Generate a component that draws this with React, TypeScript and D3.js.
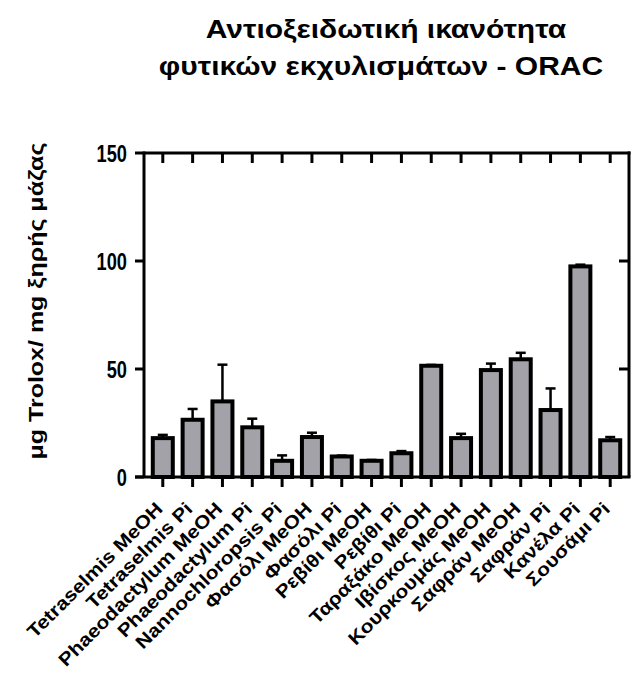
import React from "react";
import * as d3 from "d3";

const categories = [
  "Tetraselmis MeOH",
  "Tetraselmis Pi",
  "Phaeodactylum MeOH",
  "Phaeodactylum Pi",
  "Nannochloropsis Pi",
  "Φασόλι MeOH",
  "Φασόλι Pi",
  "Ρεβίθι MeOH",
  "Ρεβίθι Pi",
  "Ταραξάκο MeOH",
  "Ιβίσκος MeOH",
  "Κουρκουμάς MeOH",
  "Σαφράν MeOH",
  "Σαφράν Pi",
  "Κανέλα Pi",
  "Σουσάμι Pi",
];
const means = [18, 26.5, 35, 23, 7.5, 18.5, 9.5, 7.5, 11, 51.5, 18, 49.5, 54.5, 31, 97.5, 17];
const errors = [1.5, 5, 17, 4, 2.5, 2, 0.4, 0.4, 1, 0.4, 2, 3, 3, 10, 0.8, 1.5];
const yTicks = [0, 50, 100, 150];
const titleLines = ["Αντιοξειδωτική ικανότητα", "φυτικών εκχυλισμάτων - ORAC"];
const yLabel = "μg Trolox/ mg ξηρής μάζας";

const W = 632;
const H = 676;
const left = 144;
const right = 629;
const top = 153;
const bottom = 477;

export default function App() {
  const x = d3.scalePoint<string>().domain(categories).range([left, right]).padding(0.63);
  const y = d3.scaleLinear().domain([0, 150]).range([bottom, top]);
  const barW = 20;
  const font = "'Liberation Sans', Arial, sans-serif";
  const sw = 3;
  return (
    <svg width={W} height={H} style={{ position: "absolute", left: 0, top: 0 }} fontFamily={font}>
      <rect width={W} height={H} fill="#fff" />
      {titleLines.map((t, i) => (
        <text
          key={i}
          transform={`translate(${i === 0 ? 386 : 381}, ${38 + i * 37}) scale(1.2, 1)`}
          textAnchor="middle"
          fontSize={25}
          fontWeight="bold"
          fill="#000"
        >
          {t}
        </text>
      ))}
      <text
        transform={`translate(43, 301) rotate(-90) scale(1.19, 1)`}
        textAnchor="middle"
        fontSize={21}
        fontWeight="bold"
        fill="#000"
      >
        {yLabel}
      </text>
      {/* bars */}
      {categories.map((c, i) => {
        const cx = x(c)!;
        return (
          <g key={c}>
            <line x1={cx} x2={cx} y1={y(means[i])} y2={y(means[i] + errors[i])} stroke="#000" strokeWidth={2.5} />
            <line x1={cx - 5} x2={cx + 5} y1={y(means[i] + errors[i])} y2={y(means[i] + errors[i])} stroke="#000" strokeWidth={2.5} />
            <rect
              x={cx - barW / 2}
              y={y(means[i])}
              width={barW}
              height={bottom - y(means[i])}
              fill="#a3a2a8"
              stroke="#000"
              strokeWidth={4}
            />
          </g>
        );
      })}
      {/* frame */}
      <line x1={left} x2={left} y1={top - 1.5} y2={bottom} stroke="#000" strokeWidth={sw} />
      <line x1={right} x2={right} y1={top - 1.5} y2={bottom} stroke="#000" strokeWidth={sw} />
      <line x1={left} x2={right + 1.5} y1={top} y2={top} stroke="#000" strokeWidth={sw} />
      <line x1={135} x2={right + 1.5} y1={bottom} y2={bottom} stroke="#000" strokeWidth={sw} />
      {yTicks.map((t) => (
        <g key={t}>
          <line x1={135} x2={left} y1={y(t)} y2={y(t)} stroke="#000" strokeWidth={sw} />
          {t > 0 && t < 150 && (
            <line x1={right - 10} x2={right} y1={y(t)} y2={y(t)} stroke="#000" strokeWidth={sw} />
          )}
          <text
            transform={`translate(127, ${y(t) + 8.5}) scale(0.76, 1)`}
            textAnchor="end"
            fontSize={24}
            fontWeight="bold"
            fill="#000"
          >
            {t}
          </text>
        </g>
      ))}
      {categories.map((c) => {
        const cx = x(c)!;
        return (
          <g key={"t" + c}>
            <line x1={cx} x2={cx} y1={bottom} y2={bottom + 10} stroke="#000" strokeWidth={sw} />
            <line x1={cx} x2={cx} y1={top} y2={top + 10} stroke="#000" strokeWidth={sw} />
            <text
              transform={`translate(${cx + 1}, ${bottom + 33}) rotate(-45) scale(1.14, 1)`}
              textAnchor="end"
              fontSize={18.5}
              fontWeight="bold"
              fill="#000"
            >
              {c}
            </text>
          </g>
        );
      })}
    </svg>
  );
}
